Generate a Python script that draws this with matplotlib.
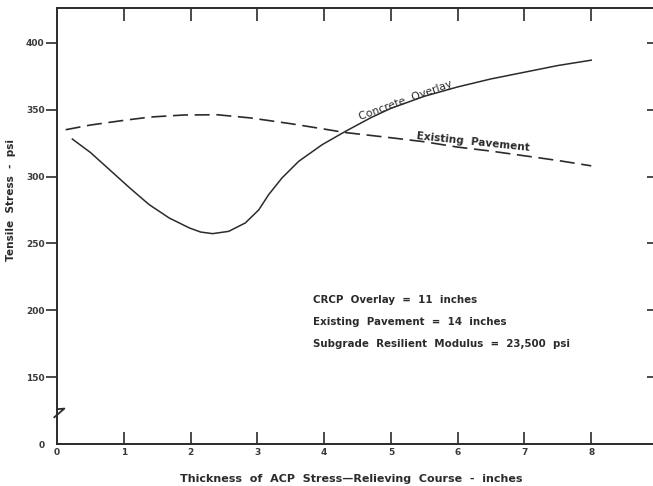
import matplotlib.pyplot as plt

# Stress curves read at the plotted thickness values (inches -> psi)
overlay_x = [0.23, 0.5, 0.8, 1.1, 1.38, 1.68, 1.98, 2.15, 2.33, 2.57, 2.82,
             3.02, 3.17, 3.37, 3.62, 3.97, 4.32, 4.7, 5.0, 5.5, 6.0, 6.5,
             7.0, 7.5, 8.0]
overlay_y = [328, 318, 304.5, 291, 279, 269, 261.6, 258.5, 257.3, 259, 265.3,
             275, 286.5, 299, 311.4, 323.8, 333.8, 344, 351, 360, 367, 373,
             378, 383, 387]

existing_x = [0.13, 0.5, 1.0, 1.4, 1.9, 2.4, 2.9, 3.5, 4.0, 4.3, 5.0, 5.5,
              6.0, 6.5, 7.0, 7.5, 8.0]
existing_y = [335, 338.5, 342, 344.5, 346, 346.2, 343.8, 339.5, 335.5, 333,
              329, 326, 322, 319, 315.5, 312, 308]

x_ticks = [0, 1, 2, 3, 4, 5, 6, 7, 8]
y_ticks = [100, 150, 200, 250, 300, 350, 400]
y_tick_labels = ["0", "150", "200", "250", "300", "350", "400"]

notes = [
    "CRCP  Overlay  =  11  inches",
    "Existing  Pavement  =  14  inches",
    "Subgrade  Resilient  Modulus  =  23,500  psi",
]

ink = "#2b2b2b"
plt.rcParams["font.family"] = ["DejaVu Sans"]

fig = plt.figure(figsize=(6.53, 4.86), dpi=100)
ax = fig.add_axes([0.0873, 0.0864, 0.9204, 0.8971])

ax.plot(overlay_x, overlay_y, color=ink, linewidth=1.1)
ax.plot(existing_x, existing_y, color=ink, linewidth=1.2,
        dashes=(9, 4))

ax.set_xlim(0, 9)
ax.set_ylim(100, 426)

ax.set_xticks(x_ticks)
ax.set_xticklabels([str(v) for v in x_ticks])
ax.set_yticks(y_ticks)
ax.set_yticklabels(y_tick_labels)

ax.tick_params(axis="x", direction="in", length=9, width=1.2, top=True,
               labelsize=6.5, labelcolor="#3a3a3a", color=ink, pad=3)
ax.tick_params(axis="y", direction="out", length=8, width=1.2,
               labelsize=6.5, labelcolor="#3a3a3a", color=ink, pad=1)
for lbl in ax.get_xticklabels() + ax.get_yticklabels():
    lbl.set_fontweight("bold")
ax.yaxis.get_major_ticks()[0].tick1line.set_visible(False)
ax.xaxis.get_major_ticks()[0].tick1line.set_visible(False)
ax.xaxis.get_major_ticks()[0].tick2line.set_visible(False)

right = ax.secondary_yaxis("right")
right.set_yticks(y_ticks[1:])
right.tick_params(direction="in", length=8, width=1.2, color=ink,
                  labelright=False)

for side in ["left", "bottom", "top", "right"]:
    ax.spines[side].set_linewidth(1.4)
    ax.spines[side].set_color(ink)

# axis break mark on the y axis
ax.plot([0.0, 0.11, -0.04], [126, 126.5, 120], color=ink,
        linewidth=1.3, clip_on=False)

ax.text(5.22, 357, "Concrete  Overlay", rotation=20, fontsize=7.8,
        ha="center", va="center", color=ink)
ax.text(6.23, 326, "Existing  Pavement", rotation=-6, fontsize=7.6,
        fontweight="bold", ha="center", va="center", color=ink)

for i, line in enumerate(notes):
    ax.text(3.83, 207.5 - i * 16.5, line, fontsize=7.4, fontweight="bold",
            ha="left", va="center", color=ink)

ax.set_xlabel("Thickness  of  ACP  Stress\u2014Relieving  Course  -  inches",
              fontsize=8, fontweight="bold", color=ink)
ax.set_ylabel("Tensile  Stress  -  psi", fontsize=7.6, fontweight="bold",
              color=ink)
ax.xaxis.set_label_coords(0.49, -0.068)
ax.yaxis.set_label_coords(-0.068, 0.56)

fig.savefig("out.png", dpi=100)
